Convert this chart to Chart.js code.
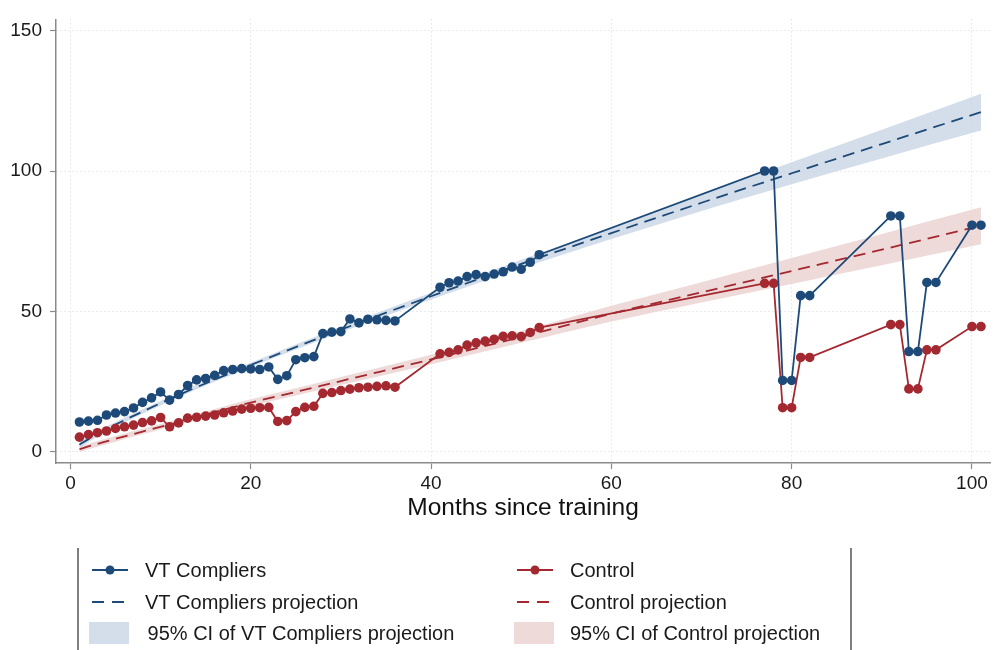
<!DOCTYPE html>
<html>
<head>
<meta charset="utf-8">
<script src="https://cdn.jsdelivr.net/npm/chart.js@4.4.0/dist/chart.umd.min.js"></script>
<style>
  html, body { margin: 0; padding: 0; background: #ffffff; }
  #wrap { width: 995px; height: 650px; position: relative; }
</style>
</head>
<body>
<div id="wrap"><canvas id="chart" width="995" height="650"></canvas></div>
<script>
// Observed months since training (same months for both groups)
const months = [
  1, 2, 3, 4, 5, 6, 7, 8, 9, 10, 11, 12, 13, 14, 15, 16, 17, 18,
  19, 20, 21, 22, 23, 24, 25, 26, 27, 28, 29, 30, 31, 32, 33, 34, 35, 36,
  41, 42, 43, 44, 45, 46, 47, 48, 49, 50, 51, 52,
  77, 78, 79, 80, 81, 82,
  91, 92, 93, 94, 95, 96,
  100, 101
];

const vtCompliers = [
  10.6, 10.9, 11.2, 13.1, 13.8, 14.3, 15.6, 17.6, 19.2, 21.3, 18.4, 20.4, 23.6, 25.6, 26.1, 27.2, 28.9, 29.3,
  29.6, 29.5, 29.3, 30.2, 25.8, 27.1, 32.8, 33.5, 33.9, 42.1, 42.6, 42.8, 47.3, 45.9, 47.2, 47.0, 46.8, 46.6,
  58.6, 60.2, 60.8, 62.4, 63.1, 62.4, 63.3, 64.1, 65.8, 65.0, 67.5, 70.2,
  100.0, 100.0, 25.4, 25.4, 55.6, 55.6,
  84.0, 84.0, 35.7, 35.7, 60.3, 60.3,
  80.7, 80.7
];

const control = [
  5.2, 6.1, 6.8, 7.4, 8.3, 8.9, 9.5, 10.4, 11.0, 12.2, 8.9, 10.3, 12.0, 12.3, 12.7, 13.1, 13.9, 14.5,
  15.2, 15.5, 15.7, 15.8, 10.8, 11.1, 14.3, 15.8, 16.2, 20.8, 21.1, 21.8, 22.3, 22.8, 23.0, 23.3, 23.5, 23.0,
  34.9, 35.4, 36.3, 38.0, 38.8, 39.4, 40.1, 41.1, 41.3, 41.0, 42.5, 44.2,
  60.0, 60.0, 15.7, 15.7, 33.6, 33.6,
  45.3, 45.3, 22.4, 22.4, 36.3, 36.3,
  44.6, 44.6
];

// Projection curves and their 95% confidence bands
const projMonths = [1, 2, 3, 5, 8, 12, 16, 20, 25, 30, 40, 50, 60, 70, 80, 90, 101];

const vtProjection = [2.5, 4.5, 6.3, 9.7, 14.3, 20.2, 25.7, 30.9, 37.3, 43.5, 55.4, 66.9, 77.9, 88.7, 99.2, 109.6, 121.0];
const vtCiLower    = [1.3, 3.4, 5.3, 8.8, 13.5, 19.4, 24.9, 30.1, 36.4, 42.5, 54.2, 65.4, 75.8, 85.8, 95.3, 104.5, 114.4];
const vtCiUpper    = [3.7, 5.6, 7.3, 10.6, 15.1, 21.0, 26.5, 31.7, 38.2, 44.5, 56.6, 68.4, 80.0, 91.6, 103.1, 114.7, 127.5];

const controlProjection = [0.9, 1.9, 2.8, 4.6, 7.2, 10.6, 14.1, 17.5, 21.3, 25.2, 32.9, 40.9, 49.2, 56.8, 64.4, 72.0, 80.5];
const controlCiLower    = [-0.1, 0.9, 1.8, 3.6, 6.2, 9.6, 13.0, 16.3, 20.0, 23.8, 31.2, 38.8, 46.4, 53.2, 59.8, 66.4, 73.9];
const controlCiUpper    = [1.9, 2.9, 3.8, 5.6, 8.2, 11.6, 15.2, 18.7, 22.6, 26.6, 34.6, 43.0, 52.0, 60.4, 69.0, 77.6, 87.1];

// Axis ticks
const xTicks = [0, 20, 40, 60, 80, 100];
const yTicks = [0, 50, 100, 150];

const xTitle = 'Months since training';
const labels = {
  vt: 'VT Compliers',
  control: 'Control',
  vtProj: 'VT Compliers projection',
  controlProj: 'Control projection',
  vtCi: ' 95% CI of VT Compliers projection',
  controlCi: '95% CI of Control projection'
};

const FONT = "'Liberation Sans', Arial, Helvetica, sans-serif";
const BLUE = '#1d4a78';
const RED = '#a4282f';
const BLUE_BAND = 'rgba(196, 211, 227, 0.75)';
const RED_BAND = 'rgba(234, 205, 205, 0.75)';

const pts = (xs, ys) => xs.map((x, i) => ({ x: x, y: ys[i] }));

// Legend drawn below the axis in two columns
const legendBox = {
  id: 'legendBox',
  afterDraw(chart) {
    const ctx = chart.ctx;
    ctx.save();
    // side rules of the legend frame
    ctx.strokeStyle = '#555';
    ctx.lineWidth = 1.5;
    ctx.beginPath();
    ctx.moveTo(78, 548); ctx.lineTo(78, 650);
    ctx.moveTo(851, 548); ctx.lineTo(851, 650);
    ctx.stroke();

    const cols = [
      { sx: 92, tx: [145, 145, 142], color: BLUE, band: BLUE_BAND, names: [labels.vt, labels.vtProj, labels.vtCi] },
      { sx: 517, tx: [570, 570, 570], color: RED, band: RED_BAND, names: [labels.control, labels.controlProj, labels.controlCi] }
    ];
    const rows = [570, 602, 633];
    ctx.font = '20px ' + FONT;
    ctx.textBaseline = 'middle';
    ctx.textAlign = 'left';
    cols.forEach(c => {
      // solid line with marker
      ctx.strokeStyle = c.color;
      ctx.lineWidth = 1.8;
      ctx.setLineDash([]);
      ctx.beginPath();
      ctx.moveTo(c.sx, rows[0]); ctx.lineTo(c.sx + 36, rows[0]);
      ctx.stroke();
      ctx.fillStyle = c.color;
      ctx.beginPath();
      ctx.arc(c.sx + 18, rows[0], 4.5, 0, Math.PI * 2);
      ctx.fill();
      // dashed projection
      ctx.setLineDash([12, 8]);
      ctx.beginPath();
      ctx.moveTo(c.sx, rows[1]); ctx.lineTo(c.sx + 36, rows[1]);
      ctx.stroke();
      ctx.setLineDash([]);
      // band swatch
      ctx.fillStyle = c.band;
      ctx.fillRect(c.sx - 3, rows[2] - 11, 40, 22);
      // texts
      ctx.fillStyle = '#1a1a1a';
      c.names.forEach((n, i) => ctx.fillText(n, c.tx[i], rows[i] + 1));
    });
    ctx.restore();
  }
};

new Chart(document.getElementById('chart'), {
  type: 'line',
  data: {
    datasets: [
      {
        label: labels.vt, data: pts(months, vtCompliers),
        borderColor: BLUE, backgroundColor: BLUE, borderWidth: 1.8,
        pointRadius: 4.8, pointBorderWidth: 0, pointBackgroundColor: BLUE, tension: 0
      },
      {
        label: labels.control, data: pts(months, control),
        borderColor: RED, backgroundColor: RED, borderWidth: 1.8,
        pointRadius: 4.8, pointBorderWidth: 0, pointBackgroundColor: RED, tension: 0
      },
      {
        label: labels.vtProj, data: pts(projMonths, vtProjection),
        borderColor: BLUE, borderWidth: 1.8, borderDash: [12, 7], pointRadius: 0,
        cubicInterpolationMode: 'monotone'
      },
      {
        label: labels.controlProj, data: pts(projMonths, controlProjection),
        borderColor: RED, borderWidth: 1.8, borderDash: [12, 7], pointRadius: 0,
        cubicInterpolationMode: 'monotone'
      },
      {
        label: 'vt-ci-lower', data: pts(projMonths, vtCiLower),
        borderWidth: 0, pointRadius: 0, fill: false, cubicInterpolationMode: 'monotone'
      },
      {
        label: labels.vtCi, data: pts(projMonths, vtCiUpper),
        borderWidth: 0, pointRadius: 0, fill: '-1', backgroundColor: BLUE_BAND,
        cubicInterpolationMode: 'monotone'
      },
      {
        label: 'control-ci-lower', data: pts(projMonths, controlCiLower),
        borderWidth: 0, pointRadius: 0, fill: false, cubicInterpolationMode: 'monotone'
      },
      {
        label: labels.controlCi, data: pts(projMonths, controlCiUpper),
        borderWidth: 0, pointRadius: 0, fill: '-1', backgroundColor: RED_BAND,
        cubicInterpolationMode: 'monotone'
      }
    ]
  },
  options: {
    responsive: false,
    devicePixelRatio: 1,
    animation: false,
    layout: { padding: { top: 14, right: 5, bottom: 123, left: 0 } },
    plugins: { legend: { display: false }, tooltip: { enabled: false } },
    scales: {
      x: {
        type: 'linear', min: -1.6, max: 102,
        afterBuildTicks: s => { s.ticks = xTicks.map(v => ({ value: v })); },
        afterFit: s => { s.height = 64; },
        grid: { color: '#d6d6d6', lineWidth: 1, tickColor: '#8a8a8a', tickLength: 6, tickWidth: 1.2, tickBorderDash: [] },
        border: { color: '#8a8a8a', width: 1.5, dash: [1, 3] },
        ticks: { color: '#1a1a1a', font: { family: FONT, size: 19 }, padding: 3, maxRotation: 0 },
        title: { display: true, text: xTitle, color: '#111', font: { family: FONT, size: 24.5 }, padding: { top: 2, bottom: 4 } }
      },
      y: {
        type: 'linear', min: -4, max: 154,
        afterBuildTicks: s => { s.ticks = yTicks.map(v => ({ value: v })); },
        afterFit: s => { s.width = 56; },
        grid: { color: '#d6d6d6', lineWidth: 1, tickColor: '#8a8a8a', tickLength: 6, tickWidth: 1.2, tickBorderDash: [] },
        border: { color: '#8a8a8a', width: 1.5, dash: [1, 3] },
        ticks: { color: '#1a1a1a', font: { family: FONT, size: 19 }, padding: 8 }
      }
    }
  },
  plugins: [legendBox]
});
</script>
</body>
</html>
